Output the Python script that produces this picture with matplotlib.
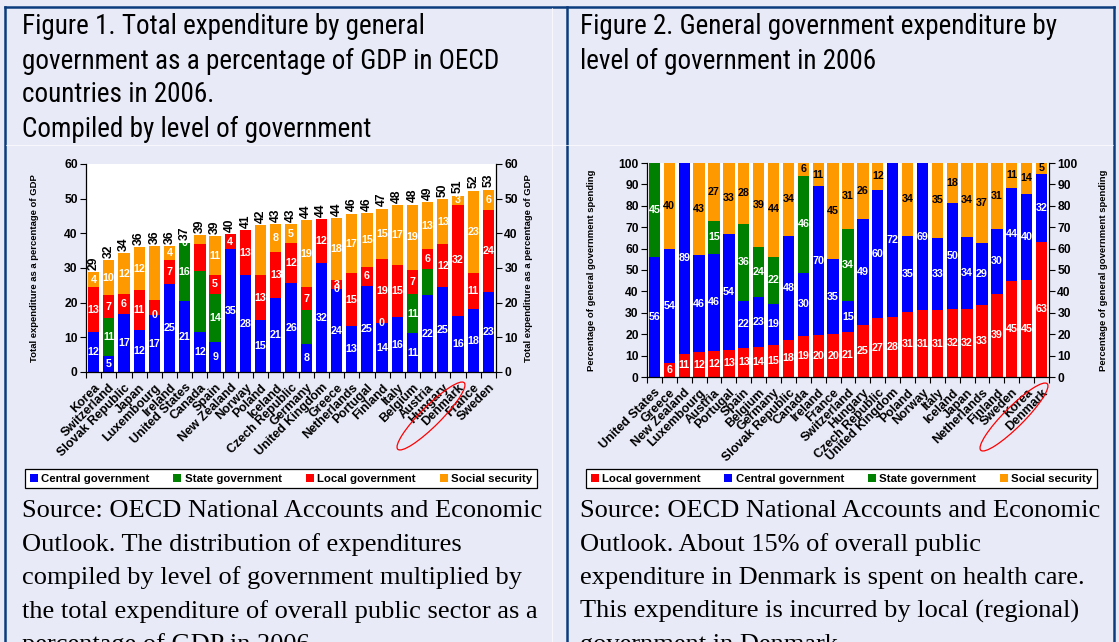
import numpy as np
import matplotlib
matplotlib.use('Agg')
import matplotlib.pyplot as plt
from matplotlib import font_manager
from matplotlib.patches import Patch, Ellipse
from matplotlib.lines import Line2D
from matplotlib.transforms import IdentityTransform, ScaledTranslation

# ---------------- Figure 1 data (% of GDP) ----------------
countries1 = ['Korea', 'Switzerland', 'Slovak Republic', 'Japan', 'Luxembourg', 'Ireland',
              'United States', 'Canada', 'Spain', 'New Zealand', 'Norway', 'Poland', 'Iceland',
              'Czech Republic', 'Germany', 'United Kingdom', 'Greece', 'Netherlands', 'Portugal',
              'Finland', 'Italy', 'Belgium', 'Austria', 'Hungary', 'Denmark', 'France', 'Sweden']
central1 = [11.5, 4.6, 16.8, 12.1, 16.4, 25.4, 20.4, 11.6, 8.7, 35.4, 27.9, 15.0, 21.3, 25.6,
            8.1, 31.3, 23.8, 13.2, 24.8, 14.1, 15.8, 11.2, 22.1, 24.5, 16.1, 18.1, 23.0]
state1 = [0, 11.0, 0, 0, 0, 0, 16.7, 17.5, 13.9, 0, 0, 0, 0, 0,
          9.7, 0, 0, 0, 0, 0, 0, 11.3, 7.5, 0, 0, 0, 0]
local1 = [13.0, 6.5, 5.6, 11.5, 4.3, 6.9, 0, 7.9, 5.3, 4.3, 13.0, 12.9, 13.3, 11.6,
          6.6, 12.7, 2.6, 15.3, 5.6, 18.4, 15.2, 6.8, 6.0, 12.3, 32.2, 10.6, 23.6]
social1 = [4.3, 10.2, 11.9, 12.4, 15.6, 4.0, 0.2, 2.4, 11.3, 0, 0, 14.4, 8.0, 5.4,
           19.4, 0, 17.9, 17.1, 15.4, 14.6, 17.1, 19.0, 13.3, 13.0, 2.6, 23.6, 6.0]
totals1 = [29, 32, 34, 36, 36, 36, 37, 39, 39, 40, 41, 42, 43, 43, 44, 44, 44, 46, 46, 47,
           48, 48, 49, 50, 51, 52, 53]
central1_lab = ['12', '5', '17', '12', '17', '25', '21', '12', '9', '35', '28', '15', '21', '26',
                '8', '32', '24', '13', '25', '14', '16', '11', '22', '25', '16', '18', '23']
state1_lab = ['', '11', '', '', '0', '', '16', '', '14', '', '', '', '', '',
              '', '', '0', '', '', '0', '', '11', '', '', '', '', '']
local1_lab = ['13', '7', '6', '11', '', '7', '', '', '5', '4', '13', '13', '13', '12',
              '7', '12', '3', '15', '6', '19', '15', '7', '6', '12', '32', '11', '24']
social1_lab = ['4', '10', '12', '12', '', '4', '0', '', '11', '', '', '', '8', '5',
               '19', '', '18', '17', '15', '15', '17', '19', '13', '13', '3', '23', '6']

# ---------------- Figure 2 data (% of general government spending) ----------------
countries2 = ['United States', 'Greece', 'New Zealand', 'Luxembourg', 'Austria', 'Portugal',
              'Spain', 'Belgium', 'Germany', 'Slovak Republic', 'Canada', 'Ireland', 'France',
              'Switzerland', 'Hungary', 'Czech Republic', 'United Kingdom', 'Poland', 'Norway',
              'Italy', 'Iceland', 'Japan', 'Netherlands', 'Finland', 'Sweden', 'Korea', 'Denmark']
local2 = [0, 6.5, 10.8, 11.6, 12.1, 12.7, 13.6, 14.0, 14.9, 17.3, 19.2, 19.6, 20.0, 21.0,
          24.3, 27.5, 28.0, 30.5, 31.3, 31.3, 31.8, 31.8, 33.8, 38.9, 44.8, 45.3, 63.3]
central2 = [56.0, 53.3, 89.2, 45.4, 45.6, 54.2, 21.9, 23.3, 19.3, 48.6, 29.4, 69.6, 35.2, 14.5,
            49.7, 59.9, 72.0, 35.4, 68.7, 33.7, 49.6, 33.7, 28.9, 30.3, 43.6, 40.3, 31.7]
state2 = [44.5, 0, 0, 0, 15.1, 0, 36.2, 23.5, 21.9, 0, 45.5, 0, 0, 33.7,
          0, 0, 0, 0, 0, 0, 0, 0, 0, 0, 0, 0, 0]
social2 = [0, 40.2, 0, 43.0, 27.2, 33.1, 28.3, 39.2, 44.4, 34.1, 6.2, 10.8, 44.8, 30.8,
           26.0, 12.6, 0, 34.1, 0, 35.0, 18.6, 34.5, 37.3, 30.8, 11.6, 14.4, 5.0]
local2_lab = ['', '6', '11', '12', '12', '13', '13', '14', '15', '18', '19', '20', '20', '21',
              '25', '27', '28', '31', '31', '31', '32', '32', '33', '39', '45', '45', '63']
central2_lab = ['56', '54', '89', '46', '46', '54', '22', '23', '19', '48', '30', '70', '35', '15',
                '49', '60', '72', '35', '69', '33', '50', '34', '29', '30', '44', '40', '32']
state2_lab = ['45', '', '', '', '15', '', '36', '24', '22', '', '46', '', '', '34',
              '', '', '', '', '', '', '', '', '', '', '', '', '']
social2_lab = ['', '40', '', '43', '27', '33', '28', '39', '44', '34', '6', '11', '45', '31',
               '26', '12', '', '34', '', '35', '18', '34', '37', '31', '11', '14', '5']

BLUE, GREEN, RED, ORANGE = '#0000FF', '#008000', '#FF0000', '#FF9900'
BG = '#E8EAF7'
NAVY = '#0B3C7D'


def pick_font(names):
    for n in names:
        try:
            font_manager.findfont(n, fallback_to_default=False)
            return n
        except Exception:
            pass
    return 'DejaVu Sans'


SANS = pick_font(['Liberation Sans', 'Arial'])
NARROW = pick_font(['Liberation Sans Narrow', 'Arial Narrow', 'Roboto Condensed', 'Liberation Sans'])
SERIF = pick_font(['Liberation Serif', 'Times New Roman', 'DejaVu Serif'])

plt.rcParams['font.family'] = SANS
plt.rcParams['font.weight'] = 'bold'

W, H = 1119, 642
fig = plt.figure(figsize=(W / 100, H / 100), dpi=100, facecolor=BG)


def px_box(l, t, r, b):
    return [l / W, 1 - b / H, (r - l) / W, (b - t) / H]


def stacked(ax, series, colors, labels, label_colors, width):
    x = np.arange(len(series[0]))
    bottom = np.zeros(len(x))
    for vals, col, labs, lcol in zip(series, colors, labels, label_colors):
        vals = np.array(vals, dtype=float)
        ax.bar(x, vals, width, bottom=bottom, color=col, linewidth=0, zorder=2)
        for i, lab in enumerate(labs):
            if lab != '':
                ax.text(x[i], bottom[i] + vals[i] / 2, lab, ha='center', va='center',
                        color=lcol, fontsize=7.7, fontweight='bold', zorder=3)
        bottom += vals
    return x, bottom


def style_axes(ax, n, names, ymax, step):
    ax.set_facecolor('white')
    ax.set_xlim(-0.5, n - 0.5)
    ax.set_ylim(0, ymax)
    ax.set_yticks(np.arange(0, ymax + 1, step))
    ax.set_xticks(np.arange(n))
    ax.set_xticklabels(names, rotation=45, ha='right', rotation_mode='anchor',
                       fontsize=9, fontweight='bold')
    shift = ScaledTranslation(-10 / 100, 0, fig.dpi_scale_trans)
    for lab in ax.get_xticklabels():
        lab.set_transform(lab.get_transform() + shift)
    ax.set_xticks(np.arange(-0.5, n), minor=True)
    ax.tick_params(axis='x', which='major', length=0, pad=7)
    ax.tick_params(axis='x', which='minor', length=4, direction='out', width=0.8)
    ax.tick_params(axis='y', which='major', length=4, direction='out', width=0.8,
                   left=True, right=True, labelleft=True, labelright=True, labelsize=8.7, pad=2)
    ax.spines['top'].set_visible(False)
    for s in ['left', 'right', 'bottom']:
        ax.spines[s].set_linewidth(0.9)


# ---------------- Figure 1 ----------------
ax1 = fig.add_axes(px_box(86, 164, 496, 372))
x1, top1 = stacked(ax1, [central1, state1, local1, social1], [BLUE, GREEN, RED, ORANGE],
                   [central1_lab, state1_lab, local1_lab, social1_lab],
                   ['white', 'white', 'white', 'white'], 0.74)
for i, t in enumerate(totals1):
    ax1.text(x1[i], top1[i] + 0.7, str(t), rotation=90, ha='center', va='bottom',
             fontsize=8.7, fontweight='bold', color='black')
style_axes(ax1, len(countries1), countries1, 60, 10)
ylab1 = 'Total expenditure as a percentage of GDP'
ax1.text(-0.125, 0.5, ylab1, transform=ax1.transAxes, rotation=90, ha='center', va='center',
         fontsize=6.8, fontweight='bold')
ax1.text(1.08, 0.5, ylab1, transform=ax1.transAxes, rotation=90, ha='center', va='center',
         fontsize=6.8, fontweight='bold')

# ---------------- Figure 2 ----------------
ax2 = fig.add_axes(px_box(647, 163, 1049, 377))
stacked(ax2, [local2, central2, state2, social2], [RED, BLUE, GREEN, ORANGE],
        [local2_lab, central2_lab, state2_lab, social2_lab],
        ['white', 'white', 'white', 'black'], 0.76)
style_axes(ax2, len(countries2), countries2, 100, 10)
ylab2 = 'Percentage of general government spending'
ax2.text(-0.137, 0.5, ylab2, transform=ax2.transAxes, rotation=90, ha='center', va='center',
         fontsize=6.8, fontweight='bold')
ax2.text(1.135, 0.5, ylab2, transform=ax2.transAxes, rotation=90, ha='center', va='center',
         fontsize=6.8, fontweight='bold')

# ---------------- legends ----------------
def legend_box(items, l, t, r, b):
    handles = [Patch(facecolor=c, edgecolor='none', label=n) for n, c in items]
    leg = fig.legend(handles=handles, loc='center', ncol=4,
                     bbox_to_anchor=(l / W, 1 - b / H, (r - l) / W, (b - t) / H),
                     mode='expand', frameon=True, fancybox=False, framealpha=1,
                     edgecolor='black', facecolor='white', borderaxespad=0,
                     handlelength=0.7, handleheight=0.7, handletextpad=0.3,
                     columnspacing=1.0, borderpad=0.4,
                     prop={'family': SANS, 'weight': 'bold', 'size': 8.2})
    leg.get_frame().set_linewidth(0.9)


legend_box([('Central government', BLUE), ('State government', GREEN),
            ('Local government', RED), ('Social security', ORANGE)], 25, 466, 537, 491)
legend_box([('Local government', RED), ('Central government', BLUE),
            ('State government', GREEN), ('Social security', ORANGE)], 586, 466, 1097, 491)

# ---------------- titles and notes ----------------
title1 = ['Figure 1. Total expenditure by general',
          'government as a percentage of GDP in OECD',
          'countries in 2006.',
          'Compiled by level of government']
title2 = ['Figure 2. General government expenditure by',
          'level of government in 2006']
for i, line in enumerate(title1):
    fig.text(22 / W, 1 - (27 + i * 34) / H, line, family=NARROW, fontweight='normal',
             fontsize=19.5, va='center', ha='left')
for i, line in enumerate(title2):
    fig.text(580 / W, 1 - (27 + i * 34) / H, line, family=NARROW, fontweight='normal',
             fontsize=19.5, va='center', ha='left')

note1 = ['Source: OECD National Accounts and Economic',
         'Outlook. The distribution of expenditures',
         'compiled by level of government multiplied by',
         'the total expenditure of overall public sector as a',
         'percentage of GDP in 2006.']
note2 = ['Source: OECD National Accounts and Economic',
         'Outlook. About 15% of overall public',
         'expenditure in Denmark is spent on health care.',
         'This expenditure is incurred by local (regional)',
         'government in Denmark.']
for i, line in enumerate(note1):
    fig.text(22 / W, 1 - (511 + i * 33.5) / H, line, family=SERIF, fontweight='normal',
             fontsize=19, va='center', ha='left')
for i, line in enumerate(note2):
    fig.text(580 / W, 1 - (511 + i * 33.5) / H, line, family=SERIF, fontweight='normal',
             fontsize=19, va='center', ha='left')

# ---------------- frame lines ----------------
def fig_line(xs, ys, color, lw):
    fig.add_artist(Line2D([x / W for x in xs], [1 - y / H for y in ys], color=color,
                          linewidth=lw, transform=fig.transFigure))


fig_line([5, 1114], [7, 7], NAVY, 1.8)
fig_line([5, 5], [7, 642], NAVY, 1.8)
fig_line([567, 567], [7, 642], NAVY, 1.8)
fig_line([1114, 1114], [7, 642], NAVY, 1.8)
fig_line([6, 1113], [145, 145], 'white', 0.5)
fig_line([552, 552], [8, 642], 'white', 0.5)

# ---------------- red ellipses around Denmark ----------------
for cx, cy in [(431, 416), (1014, 417)]:
    fig.add_artist(Ellipse((cx, H - cy), 94, 20, angle=45, fill=False, edgecolor='red',
                           linewidth=0.9, transform=IdentityTransform()))

fig.savefig('out.png', dpi=100, facecolor=BG)
